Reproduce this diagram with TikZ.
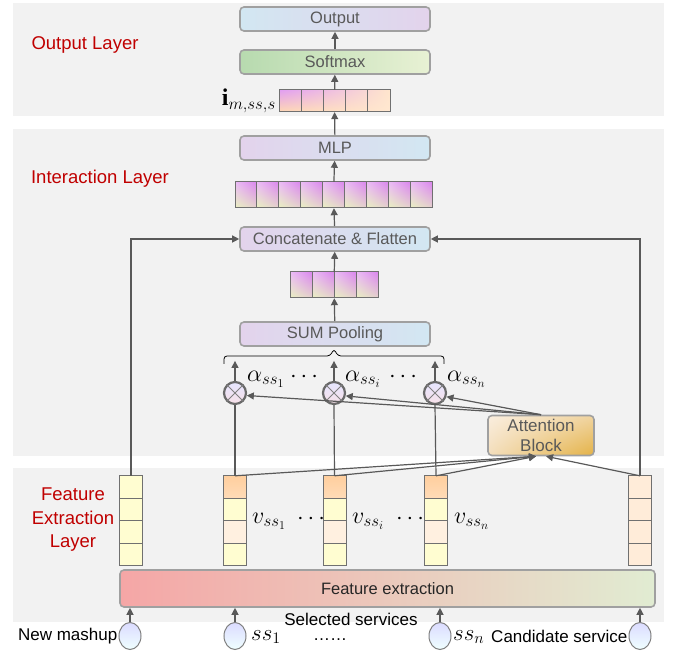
\RequirePackage{fix-cm}
\documentclass[tikz,border=0pt]{standalone}
\usepackage{fontspec}
\setmainfont{Liberation Sans}
\newfontfamily\serifbold{Liberation Serif}
\usetikzlibrary{arrows.meta,positioning,shapes.geometric,shadings}
\definecolor{txtgray}{HTML}{595959}
\definecolor{edgegray}{HTML}{A0A0A0}
\definecolor{arrgray}{HTML}{595959}
\definecolor{cellgray}{HTML}{707070}
\definecolor{layred}{HTML}{C00000}
\definecolor{panel}{HTML}{F2F2F2}
\definecolor{lblue}{HTML}{D2E7F2}
\definecolor{llav}{HTML}{E3D3EC}
\definecolor{lgreen}{HTML}{B7DAAF}
\definecolor{pgreen}{HTML}{E8F1D4}
\definecolor{mag}{HTML}{DA86EE}
\definecolor{ylg}{HTML}{E9F1C0}
\definecolor{attul}{HTML}{FAEEDF}
\definecolor{attur}{HTML}{F0D4A0}
\definecolor{attll}{HTML}{F3DEBC}
\definecolor{attlr}{HTML}{E4B246}
\definecolor{fel}{HTML}{F5A6A6}
\definecolor{fem}{HTML}{EED6C8}
\definecolor{fer}{HTML}{E1ECD2}
\tikzset{
  blk/.style={draw=edgegray, line width=1.6pt, rounded corners=4pt, minimum width=190pt,
    minimum height=24pt, inner sep=0pt, text=txtgray, font=\fontsize{16.5}{20}\selectfont},
  lavblk/.style={blk, left color=llav, right color=lblue},
  lbl/.style={text=layred, font=\fontsize{18.5}{23.5}\selectfont, align=center},
  mth/.style={font=\fontsize{24}{26}\selectfont, inner sep=0pt},
  txt/.style={font=\fontsize{17}{20}\selectfont, inner sep=1pt},
  arr/.style={-{Triangle[length=7pt,width=7pt]}, draw=arrgray, line width=1.2pt},
  lnk/.style={draw=arrgray, line width=1.2pt},
  vecn/.style={draw=none, inner sep=0pt},
  cell/.style={draw=cellgray, line width=1pt},
  mul/.style={circle, draw=arrgray!90, line width=2.2pt, minimum size=22pt, inner sep=0pt,
    top color=blue!10!white, bottom color=purple!12!white},
  src/.style={ellipse, draw=gray, line width=1pt, minimum width=22pt, minimum height=27pt,
    inner sep=0pt, top color=blue!14!white, bottom color=cyan!6!white},
}
\begin{document}
\begin{tikzpicture}[x=1pt, y=-1pt]
  \useasboundingbox (0,0) rectangle (673,652);
  \fill[panel] (13,3) rectangle (664,116);
  \fill[panel] (13,129) rectangle (664,456);
  \fill[panel] (13,468) rectangle (664,622);

  \node[lbl] (lout) at (85,45) {Output Layer};
  \node[lbl] (lint) at (100,179) {Interaction Layer};
  \node[lbl] (lfe) at (73,520) {Feature\\Extraction\\Layer};

  \node[blk, left color=lblue, right color=llav] (out) at (335,19) {Output};
  \node[blk, left color=lgreen, right color=pgreen] (soft) at (335,62) {Softmax};
  \node[lavblk] (mlp) at (335,148) {MLP};
  \node[lavblk] (cat) at (335,239) {Concatenate \& Flatten};
  \node[lavblk] (sum) at (335,334) {SUM Pooling};

  \node[vecn, minimum width=111pt, minimum height=22pt] (iv) at (334.5,101) {};
  \shade[upper left=mag!80!white, upper right=orange!20!white, lower left=orange!30!white,
    lower right=orange!18!white] (279,90) rectangle (390,112);
  \foreach \k in {0,...,4} \draw[cell] ({279+\k*22.2},90) rectangle ++(22.2,22);
  \node[mth, anchor=east] (ilab) at (276,101) {{\serifbold\bfseries i}$_{m,ss,s}$};

  \node[vecn, minimum width=197pt, minimum height=26pt] (cv) at (333.5,195) {};
  \foreach \k in {0,...,8} {
    \shade[upper left=mag!55!white, upper right=mag, lower left=ylg,
      lower right=mag!30!ylg] ({235+\k*21.9},182) rectangle ++(21.9,26);
    \draw[cell] ({235+\k*21.9},182) rectangle ++(21.9,26);
  }
  \node[vecn, minimum width=88pt, minimum height=26pt] (pv) at (334,285) {};
  \foreach \k in {0,...,3} {
    \shade[upper left=mag!55!white, upper right=mag, lower left=ylg,
      lower right=mag!30!ylg] ({290+\k*22},272) rectangle ++(22,26);
    \draw[cell] ({290+\k*22},272) rectangle ++(22,26);
  }

  \draw[arr] (soft) -- (out);
  \draw[arr] (iv) -- (soft);
  \draw[arr] (mlp) -- (iv);
  \draw[arr] (cv) -- (mlp);
  \draw[arr] (cat) -- (cv);
  \draw[arr] (pv) -- (cat);
  \draw[arr] (sum) -- (pv);

  \draw[line width=0.8pt, rounded corners=3pt] (224,364) |- (330,356) -- (334,349) -- (338,356) -| (444,364);

  \node[mul] (c1) at (235,393) {};
  \node[mul] (c2) at (334,393) {};
  \node[mul] (c3) at (435,393) {};
  \foreach \c in {c1,c2,c3} {
    \draw[gray, line width=0.8pt] (\c.45) -- (\c.225) (\c.135) -- (\c.315);
    \coordinate (\c b) at ([yshift=20pt]\c.north);
    \draw[arr] (\c.north) -- (\c b);
  }
  \node[mth, anchor=west] (a1) at (247,379) {$\alpha_{ss_1}$};
  \node[mth, anchor=west] (a2) at (345,379) {$\alpha_{ss_i}$};
  \node[mth, anchor=west] (a3) at (447,379) {$\alpha_{ss_n}$};
  \node[mth] (d1) at (304,377) {$\cdots$};
  \node[mth] (d2) at (403,377) {$\cdots$};

  \node[blk, minimum width=106pt, minimum height=40pt, align=center, font=\fontsize{17}{20.5}\selectfont,
    upper left=attul, upper right=attur, lower left=attll, lower right=attlr] (att) at (541,435.5) {Attention\\Block};

  \foreach \t/\k in {vm/131,v1/235,v2/334.5,v3/436,vc/640}
    \node[vecn, minimum width=23pt, minimum height=90pt] (\t) at (\k,521) {};
  \foreach \k in {0,...,3} {
    \draw[cell, fill=yellow!18!white] (119.5,{476+\k*22.5}) rectangle ++(23,22.5);
    \draw[cell, fill=orange!15!white] (628.5,{476+\k*22.5}) rectangle ++(23,22.5);
  }
  \foreach \x in {223.5,323,424.5} {
    \shade[top color=orange!38!white, bottom color=orange!28!white] (\x,476) rectangle ++(23,22.5);
    \draw[cell] (\x,476) rectangle ++(23,22.5);
    \draw[cell, fill=yellow!18!white] (\x,498.5) rectangle ++(23,22.5);
    \draw[cell, fill=orange!12!white] (\x,521) rectangle ++(23,22.5);
    \draw[cell, fill=yellow!18!white] (\x,543.5) rectangle ++(23,22.5);
  }
  \node[mth, anchor=west] (vl1) at (252,521) {$v_{ss_1}$};
  \node[mth, anchor=west] (vl2) at (352,521) {$v_{ss_i}$};
  \node[mth, anchor=west] (vl3) at (454,521) {$v_{ss_n}$};
  \node[mth] (d3) at (311,519) {$\cdots$};
  \node[mth] (d4) at (410,519) {$\cdots$};

  \draw[lnk] (v1.north) -- (c1.south);
  \draw[lnk] (v2.north) -- (c2.south);
  \draw[lnk] (v3.north) -- (c3.south);
  \draw[arr] (att.north) -- (c1.-12);
  \draw[arr] (att.north) -- (c2.-14);
  \draw[arr] (att.north) -- (c3.-18);
  \draw[arr] (v1.north) -- ([xshift=-5pt]att.south);
  \draw[arr] (v2.north) -- ([xshift=-5pt]att.south);
  \draw[arr] (v3.north) -- ([xshift=-5pt]att.south);
  \draw[arr] (vc.north) -- ([xshift=5pt]att.south);
  \draw[arr] (vm.north) |- (cat.west);
  \draw[arr] (vc.north) |- (cat.east);

  \node[blk, minimum width=535pt, minimum height=37pt, text=black!85, left color=fel,
    middle color=fem, right color=fer] (fe) at (387.5,588.5) {Feature extraction};

  \node[src] (in1) at (130,636) {};
  \node[src] (in2) at (235,636) {};
  \node[src] (in3) at (440,636) {};
  \node[src] (in4) at (640,636) {};
  \foreach \n in {in1,in2,in3,in4} \draw[arr] (\n.north) -- (\n.north |- fe.south);

  \node[txt, anchor=east] (tm) at (in1.west) {New mashup};
  \node[txt, anchor=east] (tc) at (in4.west) {Candidate service};
  \node[txt, inner sep=0pt] (ts) at (351,619) {Selected services};
  \node[txt, inner sep=0pt, text height=3pt, text depth=0pt, anchor=base] (tdots) at (330,641) {……};
  \node[mth, anchor=west, font=\fontsize{23}{25}\selectfont] (s1) at (251,637) {$ss_1$};
  \node[mth, anchor=west, font=\fontsize{23}{25}\selectfont] (sn) at (453,637) {$ss_n$};
\end{tikzpicture}
\end{document}
